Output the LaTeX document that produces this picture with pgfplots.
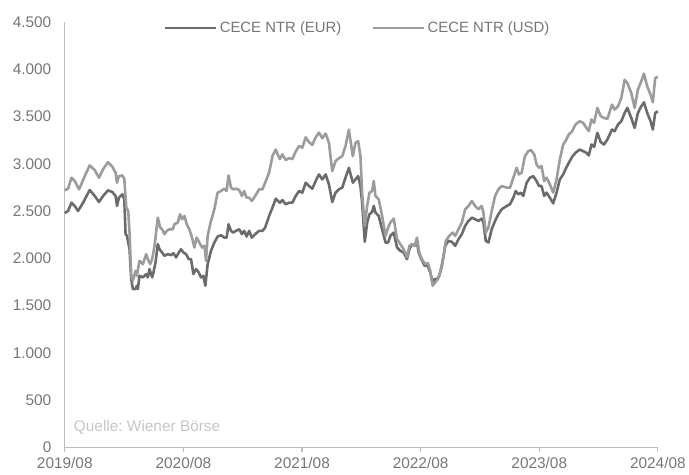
\documentclass[border=0pt]{standalone}
\usepackage{fontspec}
\setmainfont{Liberation Sans}
\usepackage{pgfplots}
\usepackage{pgfplotstable}
\pgfplotsset{compat=1.18}
\definecolor{eurcol}{HTML}{6B6B6B}
\definecolor{usdcol}{HTML}{9C9C9C}
\definecolor{labcol}{HTML}{767676}
\definecolor{axcol}{HTML}{BDBDBD}
\definecolor{srccol}{HTML}{C6C6C6}

% x = months since 2019/08
\pgfplotstableread{
m v
0.00 2480
0.34 2501
0.67 2589
1.01 2554
1.34 2501
1.85 2589
2.52 2723
3.03 2660
3.46 2596
3.87 2660
4.37 2719
4.81 2702
5.14 2660
5.28 2554
5.48 2642
5.82 2677
6.02 2624
6.15 2256
6.29 2238
6.55 2097
6.72 1781
6.89 1676
7.16 1676
7.29 1711
7.39 1676
7.56 1816
7.90 1799
8.23 1834
8.40 1799
8.57 1887
8.84 1799
8.97 1852
9.18 1957
9.41 2150
9.58 2097
9.85 2062
10.08 2027
10.42 2045
10.76 2034
10.99 2055
11.26 2010
11.53 2062
11.76 2097
12.00 2062
12.27 2045
12.54 1992
12.77 1992
13.01 1834
13.28 1887
13.55 1852
13.78 1799
14.02 1816
14.22 1711
14.45 1939
14.79 2080
15.13 2168
15.46 2231
15.80 2245
16.13 2220
16.37 2220
16.57 2361
16.81 2291
17.04 2273
17.31 2291
17.65 2308
17.92 2256
18.15 2291
18.39 2231
18.65 2291
18.92 2220
19.26 2256
19.66 2291
20.00 2291
20.27 2326
20.67 2449
21.01 2537
21.34 2631
21.75 2589
22.01 2617
22.35 2572
22.69 2589
23.02 2589
23.36 2660
23.70 2712
24.03 2695
24.37 2800
24.70 2765
25.04 2737
25.38 2818
25.71 2888
26.05 2835
26.39 2888
26.72 2783
27.06 2596
27.39 2695
27.73 2730
28.07 2748
28.40 2853
28.74 2958
29.14 2800
29.41 2835
29.68 2870
29.91 2765
30.08 2589
30.35 2175
30.59 2379
30.82 2466
31.09 2491
31.26 2554
31.43 2484
31.76 2449
32.10 2308
32.45 2168
32.71 2168
32.94 2238
33.28 2273
33.61 2115
33.95 2080
34.28 2062
34.62 1992
34.86 2097
35.13 2150
35.39 2133
35.63 2168
35.80 2062
36.07 1992
36.40 1922
36.67 1929
36.97 1852
37.21 1746
37.41 1781
37.65 1781
37.88 1816
38.15 1922
38.49 2133
38.82 2185
39.16 2175
39.49 2133
39.83 2203
40.17 2256
40.50 2343
40.84 2396
41.18 2431
41.51 2414
41.85 2396
42.18 2421
42.35 2379
42.59 2185
42.86 2168
43.19 2308
43.53 2396
43.86 2466
44.20 2519
44.70 2554
45.04 2572
45.38 2642
45.61 2712
45.88 2677
46.15 2695
46.38 2660
46.72 2800
47.06 2853
47.39 2870
47.73 2818
47.97 2765
48.23 2765
48.50 2660
48.74 2695
49.07 2642
49.41 2582
49.75 2695
50.08 2835
50.42 2888
50.65 2941
50.99 3011
51.33 3074
51.66 3116
52.10 3151
52.44 3134
52.77 3116
53.01 3088
53.28 3204
53.55 3180
53.88 3327
54.22 3229
54.55 3204
54.89 3257
55.36 3362
55.63 3345
55.96 3415
56.30 3450
56.64 3538
56.91 3591
57.31 3485
57.65 3380
57.98 3538
58.32 3608
58.59 3650
58.92 3538
59.26 3450
59.49 3362
59.73 3538
60.00 3555
}\eurdata

\pgfplotstableread{
m v
0.00 2720
0.34 2737
0.67 2853
1.01 2818
1.45 2730
2.02 2870
2.52 2983
3.03 2934
3.46 2853
3.87 2941
4.37 3018
4.81 2969
5.14 2906
5.28 2800
5.48 2870
5.82 2877
6.02 2842
6.22 2537
6.42 2501
6.55 2273
6.72 1816
6.89 1764
7.16 1869
7.29 1816
7.56 1974
7.90 1939
8.23 2045
8.40 1992
8.64 1939
8.84 1992
9.08 2133
9.41 2431
9.65 2326
9.85 2308
10.08 2256
10.32 2291
10.59 2308
10.92 2308
11.09 2361
11.43 2379
11.66 2466
11.87 2414
12.10 2449
12.34 2361
12.60 2308
12.87 2220
13.11 2115
13.34 2220
13.61 2168
13.88 2115
14.12 2133
14.29 1974
14.45 2238
14.79 2396
15.13 2519
15.46 2695
15.80 2712
16.13 2737
16.37 2712
16.57 2877
16.81 2748
17.04 2730
17.31 2737
17.65 2723
17.92 2660
18.15 2712
18.39 2642
18.65 2642
18.92 2607
19.26 2660
19.66 2730
20.00 2730
20.27 2800
20.67 2906
21.01 3081
21.34 3150
21.75 3050
22.01 3100
22.35 3040
22.69 3060
23.02 3050
23.36 3130
23.70 3190
24.03 3170
24.37 3280
24.70 3230
25.04 3200
25.38 3280
25.71 3330
26.05 3270
26.39 3320
26.72 3222
27.06 2923
27.39 3028
27.73 3060
28.07 3081
28.40 3187
28.74 3362
29.14 3081
29.41 3222
29.68 3239
29.91 3081
30.08 2695
30.35 2343
30.59 2554
30.82 2695
31.09 2712
31.26 2818
31.43 2660
31.76 2624
32.10 2449
32.45 2238
32.71 2326
32.94 2379
33.28 2421
33.61 2203
33.95 2150
34.28 2097
34.62 2010
34.86 2133
35.13 2150
35.39 2133
35.63 2220
35.86 2062
36.13 1992
36.47 1939
36.74 1950
36.97 1869
37.21 1711
37.48 1746
37.75 1781
37.98 1852
38.32 2027
38.55 2185
38.89 2238
39.23 2273
39.49 2238
39.83 2308
40.17 2379
40.50 2519
40.84 2554
41.18 2607
41.51 2554
41.85 2519
42.18 2554
42.35 2484
42.59 2273
42.86 2326
43.19 2501
43.53 2660
43.86 2730
44.20 2765
44.70 2748
45.04 2748
45.38 2853
45.71 2958
45.95 2888
46.22 2906
46.55 3081
46.89 3134
47.16 3145
47.49 3099
47.73 2993
47.97 2958
48.23 2976
48.50 2818
48.74 2853
49.07 2783
49.41 2695
49.75 2835
50.08 3046
50.42 3204
50.65 3239
50.99 3310
51.33 3345
51.66 3415
52.10 3450
52.44 3433
52.77 3380
53.01 3345
53.28 3468
53.55 3433
53.88 3591
54.22 3503
54.55 3485
54.89 3475
55.36 3626
55.63 3573
55.96 3608
56.30 3696
56.64 3889
56.91 3854
57.31 3749
57.65 3591
57.98 3784
58.32 3872
58.59 3953
58.92 3819
59.26 3731
59.49 3650
59.73 3907
60.00 3920
}\usddata

\begin{document}
\frenchspacing
\begin{tikzpicture}
\path (-65bp,-27bp) rectangle (624bp,449bp);
\begin{axis}[
  at={(0,0)}, anchor=south west,
  scale only axis,
  width=595bp, height=427bp,
  xmin=0, xmax=60, ymin=0, ymax=4500,
  axis x line=bottom, axis y line=left,
  axis line style={draw=axcol, line width=1.2bp, -},
  xtick={0,12,24,36,48,60},
  xticklabels={2019/08,2020/08,2021/08,2022/08,2023/08,2024/08},
  ytick={0,500,...,4500},
  tick align=outside,
  major tick length=4bp,
  x tick style={draw=axcol, line width=1.2bp},
  y tick style={draw=none},
  /pgf/number format/fixed,
  /pgf/number format/precision=0,
  /pgf/number format/use comma,
  /pgf/number format/1000 sep={.},
  /pgf/number format/assume math mode=true,
  ticklabel style={text=labcol, font=\fontsize{15.5}{18}\selectfont},
  xticklabel style={yshift=-2bp},
  yticklabel style={xshift=-6bp},
  legend style={at={(0.5,1)}, anchor=center, yshift=-6bp, xshift=-4bp, draw=none, fill=none,
    font=\fontsize{15}{18}\selectfont, text=labcol, legend columns=2,
    /tikz/every even column/.append style={column sep=28bp}},
  legend image code/.code={\draw[#1] (0bp,0bp) -- (52bp,0bp);},
  clip=false,
]
\addplot[eurcol, line width=2.6bp, line join=round] table[x=m, y=v] {\eurdata};
\addlegendentry{CECE NTR (EUR)}
\addplot[usdcol, line width=2.6bp, line join=round] table[x=m, y=v] {\usddata};
\addlegendentry{CECE NTR (USD)}
\node[anchor=west, inner sep=0pt, text=srccol, font=\fontsize{15.5}{18}\selectfont]
  at ([xshift=9bp,yshift=20bp]rel axis cs:0,0) {Quelle: Wiener Börse};
\end{axis}
\end{tikzpicture}
\end{document}
